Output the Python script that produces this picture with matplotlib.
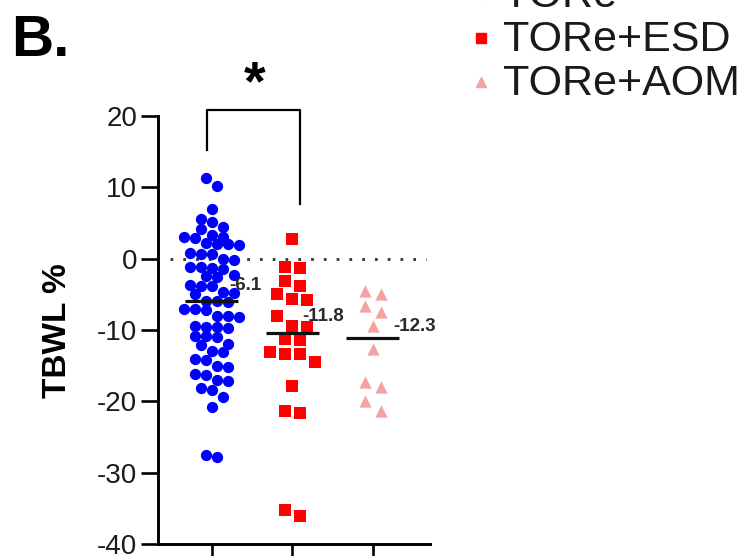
import numpy as np
import matplotlib
matplotlib.use("Agg")
import matplotlib.pyplot as plt
from matplotlib.lines import Line2D

plt.rcParams["font.family"] = ["Liberation Sans", "DejaVu Sans"]

# ---- data -------------------------------------------------------------
groups = ["TORe", "TORe+ESD", "TORe+AOM"]

tore = [11.3, 10.2, 6.9, 5.5, 5.2, 4.4, 4.2, 3.3, 3.1, 2.9, 3.0, 2.1, 1.9,
        2.0, 2.2, 0.8, 0.6, 0.7, -0.1, -0.2, -1.2, -1.4, -1.3, -1.1, -2.3,
        -2.5, -2.4, -3.7, -3.9, -3.8, -4.7, -4.9, -4.8, -6.0, -5.9, -6.1,
        -7.0, -7.2, -7.1, -8.0, -8.2, -8.1, -9.5, -9.7, -9.6, -9.6, -10.8,
        -11.0, -10.9, -11.9, -12.1, -12.9, -13.1, -14.0, -14.2, -15.0, -15.2,
        -16.1, -16.3, -17.0, -17.2, -18.2, -18.4, -19.4, -20.8, -27.8, -27.5]

tore_esd = [2.8, -1.3, -1.2, -3.2, -3.8, -4.9, -5.7, -5.8, -8.1, -9.4, -9.6,
            -11.2, -11.4, -13.1, -13.3, -13.4, -14.5, -17.8, -21.3, -21.6,
            -36.1, -35.3]

tore_aom = [-4.6, -5.0, -6.7, -7.5, -9.5, -12.7, -17.3, -18.0, -20.0, -21.4]

yticks = [-40, -30, -20, -10, 0, 10, 20]

series = [tore, tore_esd, tore_aom]

# ---- styling ----------------------------------------------------------
colors = ["#0000FF", "#FF0000", "#F3A3A3"]
markers = ["o", "s", "^"]
sizes = [66, 70, 78]
col_px = [11.0, 15.0, 16.0]     # horizontal spacing between neighbours
row_units = [1.2, 1.5, 1.5]     # height of a scatter row, in data units
label_dx = [0.22, 0.12, 0.25]
label_dy = [2.1, 2.3, 1.6]

W, H = 748, 556
fig = plt.figure(figsize=(W / 100, H / 100), dpi=100)
ax_left, ax_bottom, ax_w, ax_h = 158, 12, 272, 428
ax = fig.add_axes([ax_left / W, ax_bottom / H, ax_w / W, ax_h / H])
xlim = (-0.67, 2.71)
ylim = (-40, 20)
ax.set_xlim(*xlim)
ax.set_ylim(*ylim)

px_per_x = ax_w / (xlim[1] - xlim[0])


def row_offsets(vals, row_h, spacing):
    """Group values into horizontal rows and spread each row symmetrically."""
    vals = np.asarray(vals, dtype=float)
    order = np.argsort(-vals)
    offs = np.zeros(len(vals))
    rows, current, top = [], [], None
    for i in order:
        if top is None or top - vals[i] > row_h:
            if current:
                rows.append(current)
            current, top = [i], vals[i]
        else:
            current.append(i)
    if current:
        rows.append(current)
    for r in rows:
        n = len(r)
        for k, i in enumerate(r):
            offs[i] = (k - (n - 1) / 2) * spacing
    return offs


for i, vals in enumerate(series):
    offs = row_offsets(vals, row_units[i], col_px[i]) / px_per_x
    ax.scatter(i + offs, vals, s=sizes[i], marker=markers[i], c=colors[i],
               linewidths=0, zorder=3)
    med = np.median(vals)
    ax.plot([i - 0.33, i + 0.33], [med, med], color="#111111", lw=2.3,
            solid_capstyle="butt", zorder=4)
    ax.text(i + label_dx[i], med + label_dy[i], f"{np.mean(vals):.1f}",
            fontsize=13.5, fontweight="bold", color="#2a2a2a",
            ha="left", va="center", zorder=5)

# dotted zero line
ax.plot([-0.52, 2.66], [0, 0], color="#333333", lw=2,
        ls=(0, (1, 3.6)), zorder=1)

# significance bracket
ax.plot([-0.06, -0.06, 1.09, 1.09], [15.2, 20.8, 20.8, 7.6], color="black",
        lw=1.6, clip_on=False)
ax.text(0.53, 24.3, "*", fontsize=40, fontweight="bold", ha="center",
        va="center", clip_on=False)

# axes
for s in ["top", "right"]:
    ax.spines[s].set_visible(False)
ax.spines["left"].set_linewidth(2.1)
ax.spines["bottom"].set_linewidth(2.1)
ax.set_yticks(yticks)
ax.set_yticklabels([str(t) for t in yticks])
ax.tick_params(axis="y", length=12, width=1.9, pad=3, labelsize=20,
               labelcolor="#1a1a1a")
ax.set_xticks(range(len(groups)))
ax.set_xticklabels([""] * len(groups))
ax.tick_params(axis="x", length=14, width=1.9)

# y label and panel letter
fig.text(57 / W, 1 - 331 / H, "TBWL %", rotation=90, fontsize=24,
         fontweight="bold", ha="center", va="center")
fig.text(11 / W, 1 - 41 / H, "B.", fontsize=42, fontweight="bold",
         ha="left", va="center")

# legend
leg_rows = [-4, 40, 84]
for i, name in enumerate(groups):
    yf = 1 - leg_rows[i] / H
    fig.add_artist(Line2D([481 / W], [1 - (leg_rows[i] - 2) / H],
                          marker=markers[i], color=colors[i],
                          markersize=7, linestyle="none",
                          transform=fig.transFigure))
    fig.text(503 / W, yf, name, fontsize=31, color="#1a1a1a",
             ha="left", va="center")

fig.savefig("out.png", dpi=100)
